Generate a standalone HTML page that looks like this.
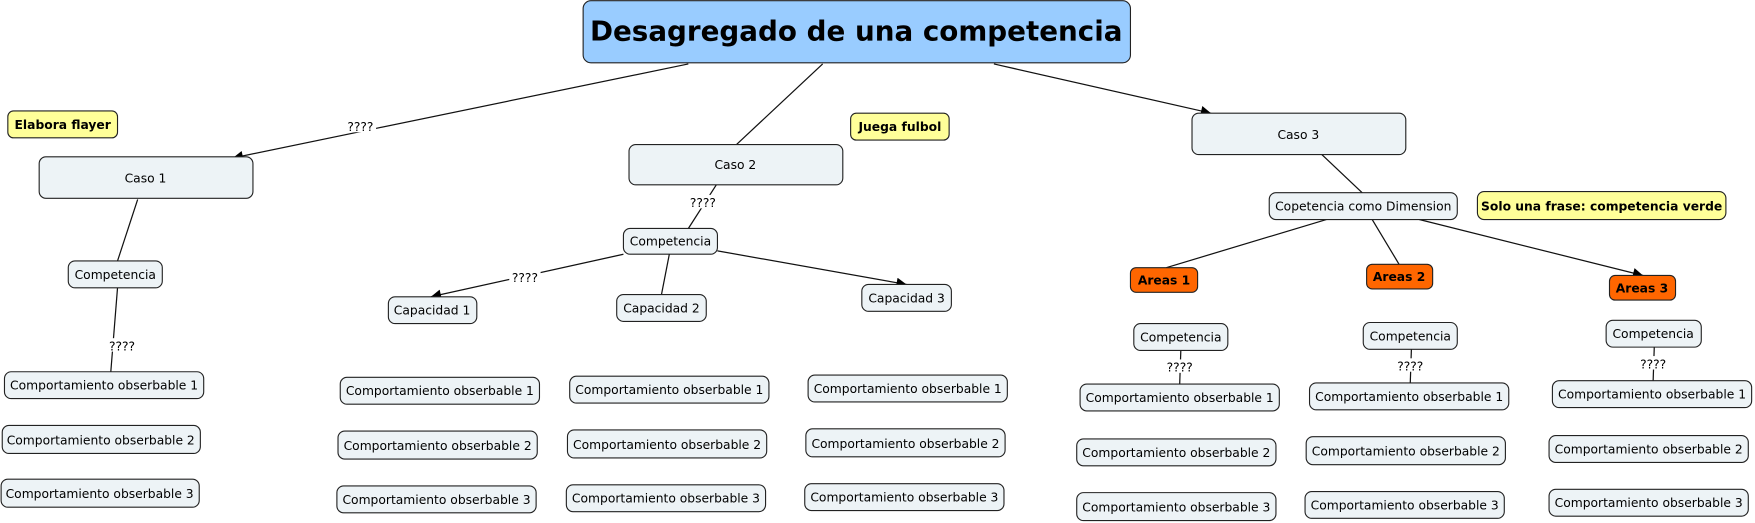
<!DOCTYPE html>
<html><head><meta charset="utf-8"><style>
html,body{margin:0;padding:0;background:#fff;}
svg{display:block;}
text{font-family:"DejaVu Sans","Liberation Sans",sans-serif;font-size:11px;fill:#000;}
.b{fill:#edf3f6;stroke:#222;stroke-width:1;}
.y{fill:#ffff99;stroke:#222;stroke-width:1;}
.o{fill:#ff6600;stroke:#222;stroke-width:1;}
.l{stroke:#111;stroke-width:1.1;fill:none;}
.bold{font-weight:bold;}
</style></head><body>
<svg width="1755" height="523" viewBox="0 0 1568 467" xmlns="http://www.w3.org/2000/svg">
<defs><marker id="a" viewBox="0 0 10 10" refX="10" refY="5" markerWidth="11" markerHeight="9" markerUnits="userSpaceOnUse" orient="auto"><path d="M0,0 L10,5 L0,10z" fill="#000"/></marker></defs>
<g text-anchor="middle">
<line class="l" x1="615" y1="57" x2="208" y2="141" marker-end="url(#a)"/>
<rect x="308" y="106" width="28" height="12" fill="#fff"/><text x="322" y="117">????</text>
<line class="l" x1="735" y1="57" x2="658" y2="129"/>
<line class="l" x1="888" y1="57" x2="1082" y2="101" marker-end="url(#a)"/>
<line class="l" x1="123" y1="178" x2="105" y2="233"/>
<line class="l" x1="105" y1="257" x2="99" y2="332"/>
<rect x="95" y="302" width="28" height="12" fill="#fff"/><text x="109" y="313">????</text>
<line class="l" x1="640" y1="165" x2="615" y2="204"/>
<rect x="614" y="174" width="28" height="12" fill="#fff"/><text x="628" y="185">????</text>
<line class="l" x1="557" y1="227" x2="385" y2="265" marker-end="url(#a)"/>
<rect x="455" y="241" width="28" height="12" fill="#fff"/><text x="469" y="252">????</text>
<line class="l" x1="598" y1="227" x2="591" y2="263"/>
<line class="l" x1="641" y1="224" x2="810" y2="254" marker-end="url(#a)"/>
<line class="l" x1="1181" y1="138" x2="1217" y2="172"/>
<line class="l" x1="1185" y1="196" x2="1042" y2="239"/>
<line class="l" x1="1226" y1="196" x2="1250" y2="236"/>
<line class="l" x1="1268" y1="196" x2="1468" y2="246" marker-end="url(#a)"/>
<line class="l" x1="1055" y1="313" x2="1054" y2="343"/>
<rect x="1040" y="321" width="28" height="12" fill="#fff"/><text x="1054" y="332">????</text>
<line class="l" x1="1261" y1="312" x2="1260" y2="342"/>
<rect x="1246" y="320" width="28" height="12" fill="#fff"/><text x="1260" y="331">????</text>
<line class="l" x1="1478" y1="310" x2="1477" y2="340"/>
<rect x="1463" y="318" width="28" height="12" fill="#fff"/><text x="1477" y="329">????</text>

<rect x="521" y="0.5" width="489" height="55.5" rx="7" fill="#99ccff" stroke="#222"/>
<text x="765" y="36" class="bold" style="font-size:24.8px">Desagregado de una competencia</text>

<rect class="y" x="7" y="99" width="98" height="24" rx="5"/><text x="56" y="115" class="bold">Elabora flayer</text>
<rect class="b" x="35" y="140" width="191" height="37" rx="6"/><text x="130" y="163">Caso 1</text>
<rect class="b" x="61" y="233" width="84" height="24" rx="6"/><text x="103" y="249">Competencia</text>
<rect class="b" x="4" y="332" width="178" height="24" rx="6"/><text x="93" y="348">Comportamiento obserbable 1</text>
<rect class="b" x="2" y="380" width="177" height="25" rx="6"/><text x="90" y="397">Comportamiento obserbable 2</text>
<rect class="b" x="1" y="428" width="177" height="25" rx="6"/><text x="89" y="445">Comportamiento obserbable 3</text>

<rect class="y" x="760" y="101" width="88" height="24" rx="5"/><text x="804" y="117" class="bold">Juega fulbol</text>
<rect class="b" x="562" y="129" width="191" height="36" rx="6"/><text x="657" y="151">Caso 2</text>
<rect class="b" x="557" y="204" width="84" height="23" rx="6"/><text x="599" y="219">Competencia</text>
<rect class="b" x="347" y="265" width="79" height="24" rx="6"/><text x="386" y="281">Capacidad 1</text>
<rect class="b" x="551" y="263" width="80" height="24" rx="6"/><text x="591" y="279">Capacidad 2</text>
<rect class="b" x="770" y="254" width="80" height="24" rx="6"/><text x="810" y="270">Capacidad 3</text>

<rect class="b" x="304" y="337" width="178" height="24" rx="6"/><text x="393" y="353">Comportamiento obserbable 1</text>
<rect class="b" x="302" y="385" width="178" height="25" rx="6"/><text x="391" y="402">Comportamiento obserbable 2</text>
<rect class="b" x="301" y="434" width="178" height="24" rx="6"/><text x="390" y="450">Comportamiento obserbable 3</text>
<rect class="b" x="509" y="336" width="178" height="24" rx="6"/><text x="598" y="352">Comportamiento obserbable 1</text>
<rect class="b" x="507" y="384" width="178" height="25" rx="6"/><text x="596" y="401">Comportamiento obserbable 2</text>
<rect class="b" x="506" y="433" width="178" height="24" rx="6"/><text x="595" y="449">Comportamiento obserbable 3</text>
<rect class="b" x="722" y="335" width="178" height="24" rx="6"/><text x="811" y="351">Comportamiento obserbable 1</text>
<rect class="b" x="720" y="383" width="178" height="25" rx="6"/><text x="809" y="400">Comportamiento obserbable 2</text>
<rect class="b" x="719" y="432" width="178" height="24" rx="6"/><text x="808" y="448">Comportamiento obserbable 3</text>

<rect class="b" x="1065" y="101" width="191" height="37" rx="6"/><text x="1160" y="124">Caso 3</text>
<rect class="b" x="1134" y="172" width="168" height="24" rx="6"/><text x="1218" y="188">Copetencia como Dimension</text>
<rect class="y" x="1320" y="171" width="222" height="25" rx="6"/><text x="1431" y="188" class="bold">Solo una frase: competencia verde</text>
<rect class="o" x="1010" y="239" width="60" height="22" rx="5"/><text x="1040" y="254" class="bold">Areas 1</text>
<rect class="o" x="1221" y="236" width="59" height="22" rx="5"/><text x="1250" y="251" class="bold">Areas 2</text>
<rect class="o" x="1438" y="246" width="59" height="22" rx="5"/><text x="1467" y="261" class="bold">Areas 3</text>

<rect class="b" x="1013" y="289" width="84" height="24" rx="6"/><text x="1055" y="305">Competencia</text>
<rect class="b" x="1218" y="288" width="84" height="24" rx="6"/><text x="1260" y="304">Competencia</text>
<rect class="b" x="1435" y="286" width="85" height="24" rx="6"/><text x="1477" y="302">Competencia</text>

<rect class="b" x="965" y="343" width="178" height="24" rx="6"/><text x="1054" y="359">Comportamiento obserbable 1</text>
<rect class="b" x="962" y="392" width="178" height="24" rx="6"/><text x="1051" y="408">Comportamiento obserbable 2</text>
<rect class="b" x="962" y="440" width="178" height="25" rx="6"/><text x="1051" y="457">Comportamiento obserbable 3</text>
<rect class="b" x="1170" y="342" width="178" height="24" rx="6"/><text x="1259" y="358">Comportamiento obserbable 1</text>
<rect class="b" x="1167" y="390" width="178" height="25" rx="6"/><text x="1256" y="407">Comportamiento obserbable 2</text>
<rect class="b" x="1166" y="439" width="178" height="24" rx="6"/><text x="1255" y="455">Comportamiento obserbable 3</text>
<rect class="b" x="1387" y="340" width="178" height="24" rx="6"/><text x="1476" y="356">Comportamiento obserbable 1</text>
<rect class="b" x="1384" y="389" width="178" height="24" rx="6"/><text x="1473" y="405">Comportamiento obserbable 2</text>
<rect class="b" x="1384" y="437" width="178" height="24" rx="6"/><text x="1473" y="453">Comportamiento obserbable 3</text>
</g>
</svg>
</body></html>
